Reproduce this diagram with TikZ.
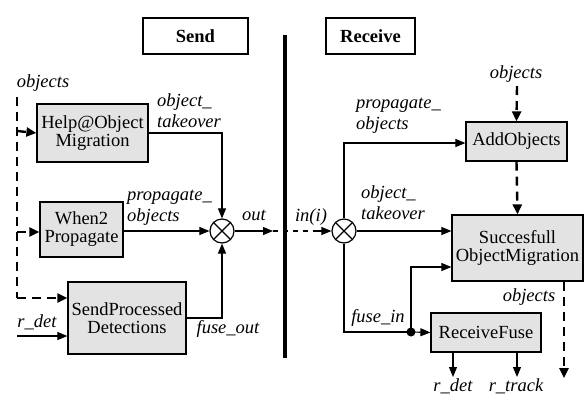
\documentclass[tikz,border=0pt]{standalone}
\usepackage{fontspec}
\setmainfont{Liberation Serif}
\usetikzlibrary{arrows.meta}
\begin{document}
\begin{tikzpicture}[x=1pt,y=-1pt,
  font=\fontsize{18.5}{21}\selectfont,
  blk/.style={draw, line width=1.2pt, fill=black!11, inner sep=0pt, align=center},
  titlebox/.style={draw, line width=1.2pt, fill=white, inner sep=0pt, font=\fontsize{18.5}{21}\selectfont\bfseries},
  lbl/.style={inner sep=0pt, font=\fontsize{18.5}{21}\selectfont\itshape, align=left},
  conn/.style={line width=1.1pt, -{Triangle[length=10pt,width=8pt]}},
  plain/.style={line width=1.1pt},
  dconn/.style={line width=2.4pt, dash pattern=on 9pt off 6pt, -{Triangle[length=10pt,width=9pt]}},
  mux/.style={draw, circle, line width=1.2pt, minimum size=24pt, inner sep=0pt,
    path picture={\draw[line width=1.1pt] (path picture bounding box.north west) -- (path picture bounding box.south east)
      (path picture bounding box.north east) -- (path picture bounding box.south west);}}
]
\useasboundingbox (0,0) rectangle (587,405);
% titles
\node[titlebox, minimum width=105pt, minimum height=36pt] (send) at (195.5,36) {Send};
\node[titlebox, minimum width=89pt, minimum height=36pt] (recv) at (370.5,36) {Receive};
% divider
\coordinate (divt) at (285,35);
\coordinate (divb) at (285,358);
\draw[line width=3.8pt] (divt) -- (divb);
% send blocks
\node[blk, minimum width=111pt, minimum height=58pt] (help) at (92.5,133) {Help@Object\\[-3pt]Migration};
\node[blk, minimum width=83pt, minimum height=55pt] (when) at (81.5,229.5) {When2\\[-3pt]Propagate};
\node[blk, minimum width=118pt, minimum height=72pt] (spd) at (127,318) {SendProcessed\\[-3pt]Detections};
\node[mux] (cl) at (222,231) {};
% receive blocks
\node[blk, minimum width=101pt, minimum height=39pt] (add) at (516.5,141.5) {AddObjects};
\node[blk, minimum width=131pt, minimum height=66pt] (som) at (517.5,248) {Succesfull\\[-3pt]ObjectMigration};
\node[blk, minimum width=110pt, minimum height=39pt] (rf) at (486,332.5) {ReceiveFuse};
\node[mux] (cr) at (344,231) {};
% left dashed objects input
\coordinate (ltop) at (17,97);
\coordinate (lbot) at (17,298);
\node[lbl] (objL) at (43,83) {objects};
\draw[line width=2.4pt, dash pattern=on 9pt off 6pt] (ltop) -- (lbot);
\draw[dconn] (17,131) -- (help.west);
\draw[dconn] (17,232) -- (when.west |- 0,232);
\draw[dconn] (lbot) -- (spd.west |- lbot);
% r_det input
\coordinate (rdin) at (17,336);
\node[lbl] (rdl) at (37,322) {r\_det};
\draw[conn] (rdin) -- (spd.west |- rdin);
% to left mux
\draw[conn] (help.east |- 0,133) -| (cl.north);
\node[lbl, anchor=west] (otk) at (157,111) {object\_\\takeover};
\draw[conn] (when.east |- cl) -- (cl.west);
\node[lbl, anchor=west] (pob) at (127,208) {propagate\_\\objects};
\draw[conn] (spd.east |- 0,318) -| (cl.south);
\node[lbl] (fo) at (228,329) {fuse\_out};
% out
\coordinate (outa) at (273,231);
\coordinate (outb) at (318,231);
\draw[conn] (cl.east) -- (outa);
\draw[line width=1.1pt, dash pattern=on 5pt off 5pt] (outa) -- (outb);
\draw[conn] (outb) -- (cr.west);
\node[lbl] (outl) at (254,215) {out};
\node[lbl] (inl) at (311,217) {in(i)};
% right side
\draw[conn] (cr.north) |- (add.west |- 0,143);
\node[lbl, anchor=west] (pob2) at (356,116) {propagate\_\\objects};
\draw[conn] (cr.east) -- (som.west |- cr);
\node[lbl, anchor=west] (otk2) at (361,203) {object\_\\takeover};
\coordinate (dot) at (411,332);
\draw[plain] (cr.south) |- (dot);
\draw[conn] (dot) -- (rf.west);
\draw[conn] (dot) |- (som.west |- 0,267);
\fill (dot) circle (4.5pt);
\node[lbl] (fi) at (378,318) {fuse\_in};
% objects top right
\coordinate (otop) at (517,86);
\node[lbl] (objT) at (516,74) {objects};
\draw[dconn] (otop) -- (add.north);
\draw[dconn] (add.south) -- (som.north);
% objects out
\coordinate (oend) at (564,378);
\draw[dconn] (som.south -| oend) -- (oend);
\node[lbl] (objB) at (529,297) {objects};
% ReceiveFuse outputs
\coordinate (rdo) at (453,377);
\coordinate (rto) at (517,377);
\draw[conn] (rf.south -| rdo) -- (rdo);
\draw[conn] (rf.south -| rto) -- (rto);
\node[lbl] (rdl2) at (453,386) {r\_det};
\node[lbl] (rtl) at (516,386) {r\_track};
\end{tikzpicture}
\end{document}
